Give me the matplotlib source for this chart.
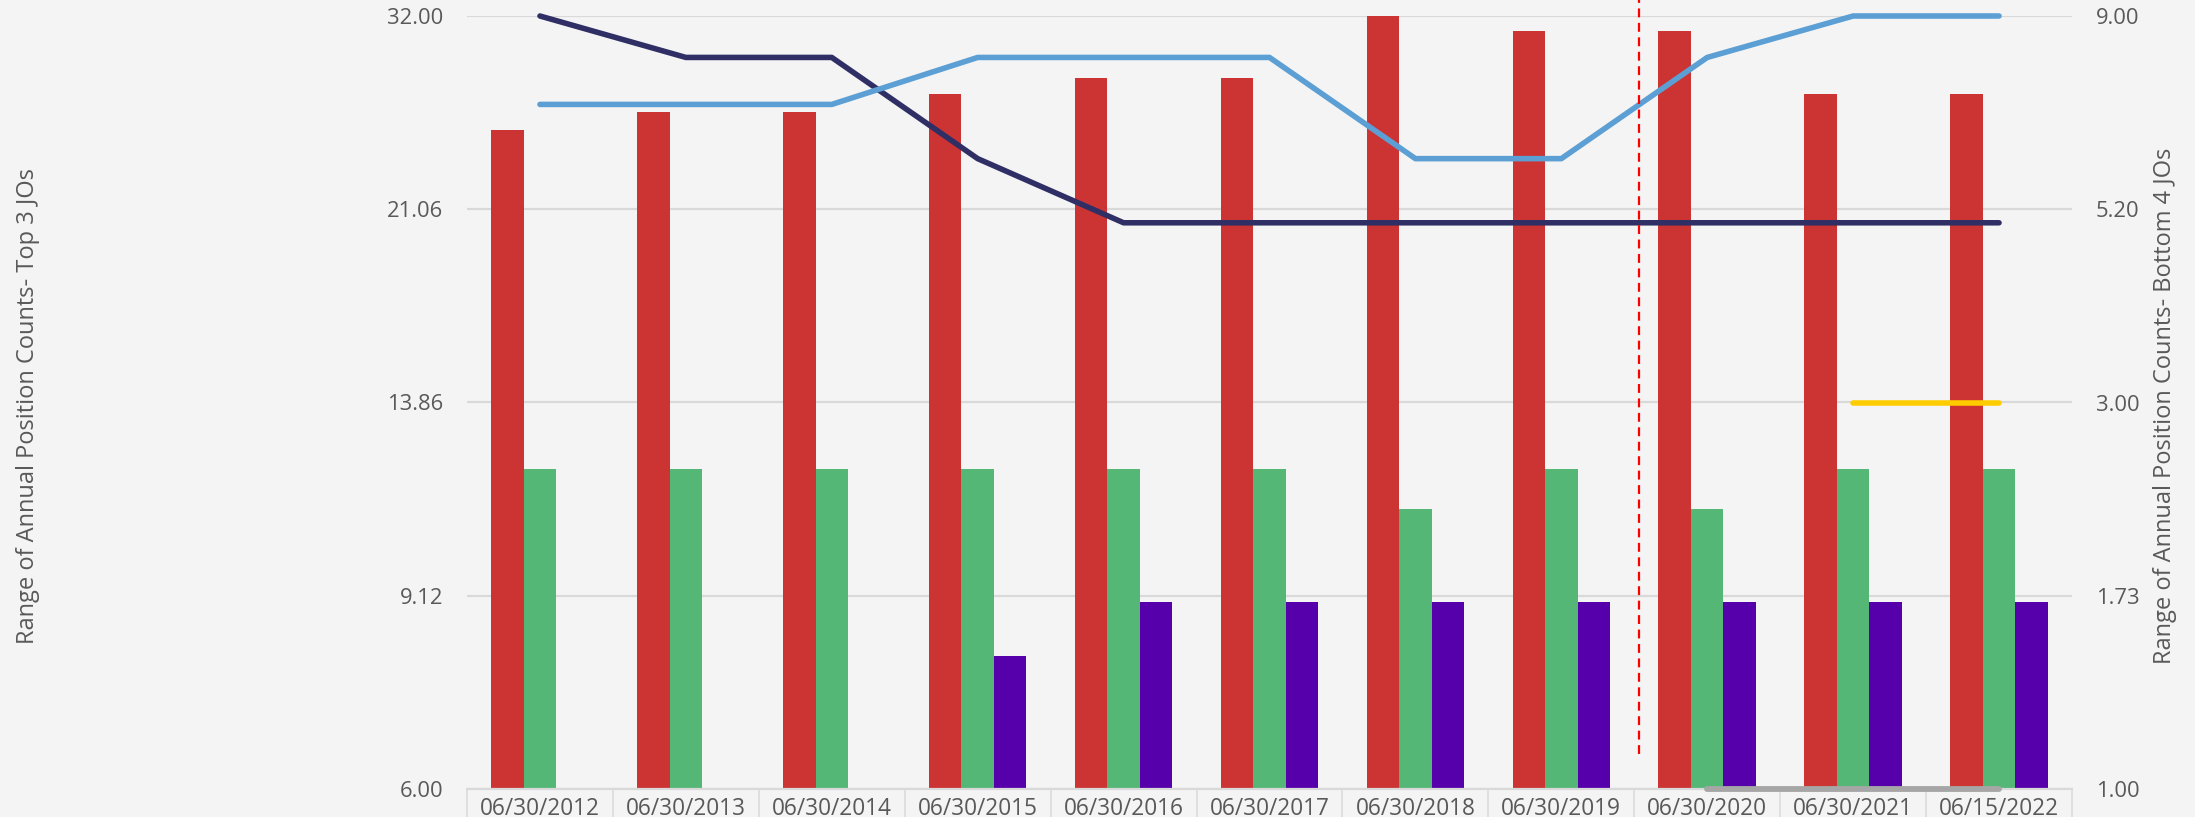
import numpy as np
import matplotlib
matplotlib.use("Agg")
import matplotlib.pyplot as plt
import matplotlib.ticker as ticker
import matplotlib.transforms as mtransforms

FONT = "Open Sans"
TEXT_COLOR = "#595959"
GRID_COLOR = "#D9D9D9"
BG = "#F4F4F4"

# categories and series (left axis: bars, right axis: lines)
dates = ["06/30/2012", "06/30/2013", "06/30/2014", "06/30/2015", "06/30/2016",
         "06/30/2017", "06/30/2018", "06/30/2019", "06/30/2020", "06/30/2021",
         "06/15/2022"]
red_bars = [25, 26, 26, 27, 28, 28, 32, 31, 31, 27, 27]
green_bars = [12, 12, 12, 12, 12, 12, 11, 12, 11, 12, 12]
purple_bars = [np.nan, np.nan, np.nan, 8, 9, 9, 9, 9, 9, 9, 9]
navy_line = [9, 8, 8, 6, 5, 5, 5, 5, 5, 5, 5]
blue_line = [7, 7, 7, 8, 8, 8, 6, 6, 8, 9, 9]
yellow_line = [np.nan] * 9 + [3, 3]
gray_line = [np.nan] * 8 + [1, 1, 1]

left_ticks = np.geomspace(6, 32, 5)
left_tick_labels = ["6.00", "9.12", "13.86", "21.06", "32.00"]
right_ticks = np.geomspace(1, 9, 5)
right_tick_labels = ["1.00", "1.73", "3.00", "5.20", "9.00"]

fig = plt.figure(figsize=(21.95, 8.17), dpi=100, facecolor=BG)
ax = fig.add_axes([467 / 2195, 28 / 817, 1605 / 2195, 773 / 817])
ax.set_facecolor(BG)

x = np.arange(len(dates))
w = 0.223
base = 6
for off, vals, col in [(-w, red_bars, "#CC3333"), (0, green_bars, "#55B776"),
                       (w, purple_bars, "#5500AA")]:
    vals = np.array(vals, dtype=float)
    ax.bar(x + off, vals - base, bottom=base, width=w, color=col, zorder=2)

ax.set_yscale("log")
ax.set_ylim(6, 32)
ax.set_xlim(-0.5, len(dates) - 0.5)
ax.yaxis.set_major_locator(ticker.FixedLocator(left_ticks))
ax.yaxis.set_minor_locator(ticker.NullLocator())
ax.set_yticklabels(left_tick_labels)
ax.grid(axis="y", color=GRID_COLOR, linewidth=1.6, zorder=0)
ax.set_axisbelow(True)

ax.set_xticks(x)
ax.set_xticklabels(dates)
ax.set_xticks(np.arange(len(dates) + 1) - 0.5, minor=True)
ax.tick_params(axis="x", which="major", length=0, pad=6, labelsize=16.3,
               labelcolor=TEXT_COLOR)
ax.tick_params(axis="x", which="minor", length=24, width=1.1, color=GRID_COLOR,
               direction="out")
ax.tick_params(axis="y", length=0, pad=17, labelsize=15.8, labelcolor=TEXT_COLOR)
for s in ["top", "left", "right"]:
    ax.spines[s].set_visible(False)
ax.spines["bottom"].set_color(GRID_COLOR)
ax.spines["bottom"].set_linewidth(1.6)

ax2 = ax.twinx()
ax2.set_yscale("log")
ax2.set_ylim(1, 9)
ax2.yaxis.set_major_locator(ticker.FixedLocator(right_ticks))
ax2.yaxis.set_minor_locator(ticker.NullLocator())
ax2.set_yticklabels(right_tick_labels)
ax2.tick_params(axis="y", length=0, pad=17, labelsize=15.8, labelcolor=TEXT_COLOR)
for s in ax2.spines.values():
    s.set_visible(False)

ax2.plot(x, gray_line, color="#A6A6A6", linewidth=4.2, solid_capstyle="round",
         clip_on=False, zorder=3)
ax2.plot(x, navy_line, color="#2F2F66", linewidth=4.0, solid_capstyle="round",
         clip_on=False)
ax2.plot(x, blue_line, color="#5B9FD4", linewidth=4.0, solid_capstyle="round",
         clip_on=False)
ax2.plot(x, yellow_line, color="#FFCC00", linewidth=4.0, solid_capstyle="round",
         clip_on=False)

# dashed marker between 2019 and 2020
trans = mtransforms.blended_transform_factory(ax2.transData, ax2.transAxes)
ax2.plot([7.53, 7.53], [0.045, 1.022], transform=trans, color="#FF0000",
         linewidth=1.6, linestyle=(0, (4, 2.5)), clip_on=False)

for lbl in ax.get_xticklabels() + ax.get_yticklabels() + ax2.get_yticklabels():
    lbl.set_fontfamily(FONT)

fig.text(28 / 2195, 0.5 + 3 / 817, "Range of Annual Position Counts- Top 3 JOs",
         rotation=90, ha="center", va="center", fontsize=17.0, color=TEXT_COLOR,
         family=FONT)
fig.text(2165 / 2195, 0.5 + 3 / 817, "Range of Annual Position Counts- Bottom 4 JOs",
         rotation=90, ha="center", va="center", fontsize=17.0, color=TEXT_COLOR,
         family=FONT)

fig.savefig("out.png", dpi=100, facecolor=BG)
